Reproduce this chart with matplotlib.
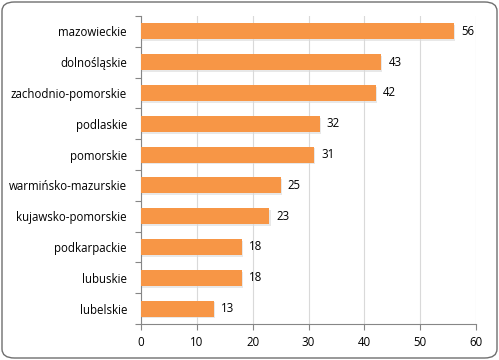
import matplotlib

matplotlib.use("Agg")
import matplotlib.pyplot as plt  # noqa: E402
import numpy as np  # noqa: E402
from matplotlib.patches import FancyBboxPatch  # noqa: E402

# data, top to bottom as in the picture
regions = ["mazowieckie", "dolnośląskie", "zachodnio-pomorskie", "podlaskie",
           "pomorskie", "warmińsko-mazurskie", "kujawsko-pomorskie",
           "podkarpackie", "lubuskie", "lubelskie"]
counts = [56, 43, 42, 32, 31, 25, 23, 18, 18, 13]
xticks = [0, 10, 20, 30, 40, 50, 60]

ORANGE = "#F79646"
AXIS = "#868686"
GRID = "#D9D9D9"
INK = "#000000"

plt.rcParams["font.family"] = ["Open Sans", "DejaVu Sans"]

fig = plt.figure(figsize=(4.99, 3.6), dpi=100, facecolor="white")
ax = fig.add_axes([141 / 499, 1 - 324 / 360, 335 / 499, 308 / 360])

y = np.arange(len(regions))[::-1]
# soft shadow then bar
ax.barh(y - 0.06, np.array(counts) + 0.25, height=0.52, color="#d9d9d9",
        alpha=0.6, zorder=2, lw=0)
ax.barh(y, counts, height=0.52, color=ORANGE, zorder=3, lw=0)
for yi, v in zip(y, counts):
    ax.text(v + 1.3, yi, str(v), va="center", ha="left", fontsize=8.3,
            color=INK, zorder=4)

ax.set_xlim(0, 60)
ax.set_ylim(-0.5, len(regions) - 0.5)
ax.set_xticks(xticks)
ax.set_yticks(y)
ax.set_yticklabels(regions)
ax.set_yticks(np.arange(-0.5, len(regions)), minor=True)
ax.tick_params(axis="y", which="major", length=0, pad=10, labelsize=8.3,
               labelcolor=INK)
ax.tick_params(axis="y", which="minor", length=4, color=AXIS, width=0.8)
ax.tick_params(axis="x", length=4, color=AXIS, width=0.8, labelsize=8.3,
               labelcolor=INK, pad=5)
ax.grid(axis="x", color=GRID, lw=0.8, zorder=0)
ax.set_axisbelow(True)
for s in ("top", "right"):
    ax.spines[s].set_visible(False)
for s in ("left", "bottom"):
    ax.spines[s].set_color(AXIS)
    ax.spines[s].set_linewidth(0.8)

frame = FancyBboxPatch((2 / 499, 2 / 360), 495 / 499, 356 / 360,
                       boxstyle="round,pad=0,rounding_size=0.025",
                       transform=fig.transFigure, fill=False,
                       edgecolor="#6f6f6f", lw=1.0, zorder=-1)
fig.patches.append(frame)

fig.savefig("out.png", dpi=100, facecolor="white")
